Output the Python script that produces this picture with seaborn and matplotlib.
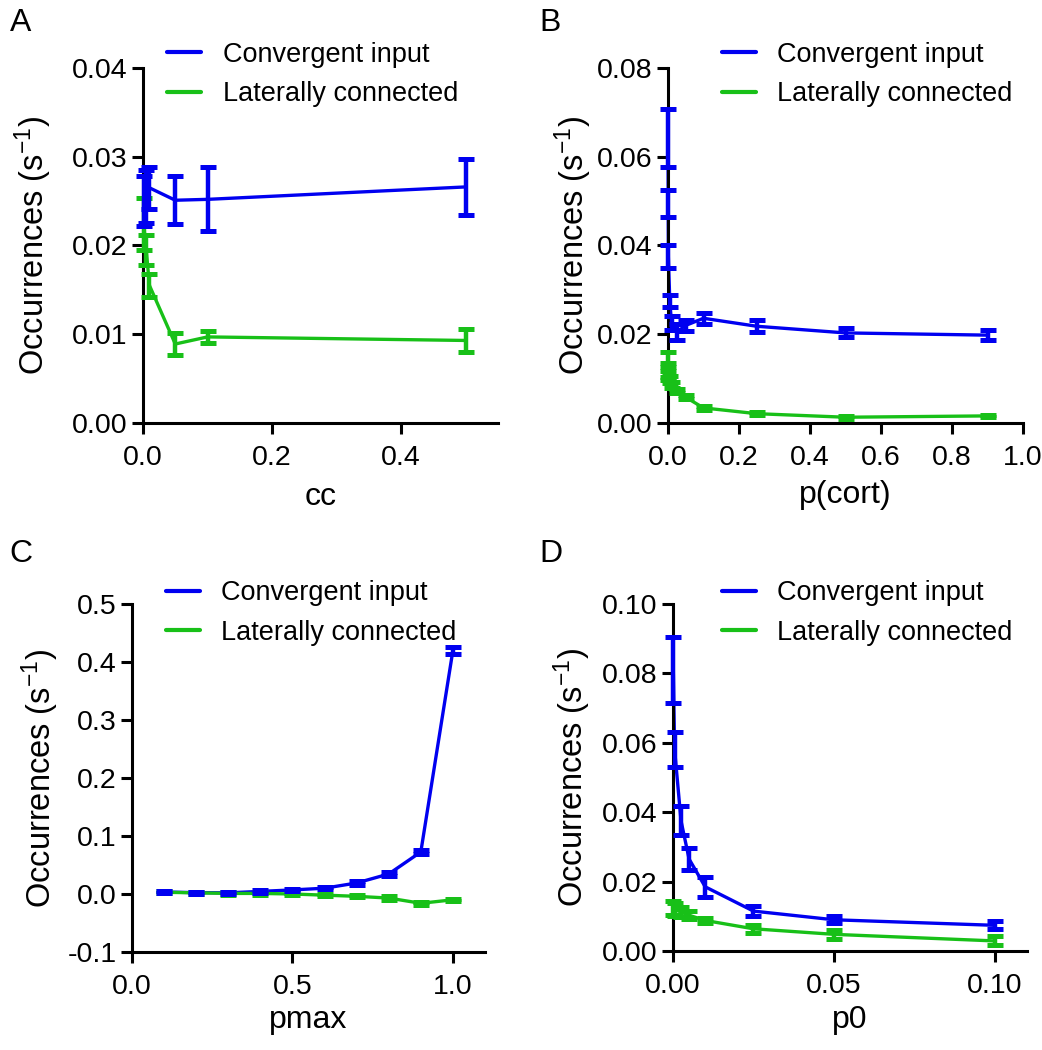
import numpy as np
import pandas as pd
import matplotlib
matplotlib.use("Agg")
import matplotlib.pyplot as plt
import seaborn as sns

# ---------------- data ----------------
series_names = ["Convergent input", "Laterally connected"]

A_x = [0.001, 0.005, 0.01, 0.05, 0.1, 0.5]
A_conv = [0.0250, 0.0255, 0.0265, 0.0251, 0.0252, 0.0266]
A_conv_err = [0.0028, 0.0030, 0.0024, 0.0027, 0.0036, 0.0032]
A_lat = [0.0224, 0.0195, 0.0155, 0.0089, 0.0097, 0.0093]
A_lat_err = [0.0029, 0.0017, 0.0013, 0.0012, 0.0007, 0.0013]

B_x = [0.0001, 0.0005, 0.001, 0.005, 0.01, 0.025, 0.05, 0.1, 0.25, 0.5, 0.9]
B_conv = [0.0643, 0.0495, 0.0375, 0.0275, 0.0225, 0.0205, 0.0220, 0.0236, 0.0218, 0.0203, 0.0198]
B_conv_err = [0.0065, 0.0030, 0.0025, 0.0013, 0.0015, 0.0018, 0.0012, 0.0012, 0.0013, 0.0010, 0.0011]
B_lat = [0.0148, 0.0115, 0.0108, 0.0098, 0.0085, 0.0072, 0.0058, 0.0034, 0.0021, 0.0013, 0.0016]
B_lat_err = [0.0012, 0.0012, 0.0010, 0.0008, 0.0007, 0.0005, 0.0005, 0.0004, 0.0003, 0.0003, 0.0003]

C_x = [0.1, 0.2, 0.3, 0.4, 0.5, 0.6, 0.7, 0.8, 0.9, 1.0]
C_conv = [0.0035, 0.0023, 0.0020, 0.0045, 0.0070, 0.0100, 0.0190, 0.0345, 0.0725, 0.4200]
C_conv_err = [0.002, 0.002, 0.002, 0.002, 0.002, 0.002, 0.003, 0.003, 0.004, 0.006]
C_lat = [0.0030, 0.0020, 0.0010, 0.0010, 0.0000, -0.0020, -0.0040, -0.0070, -0.0160, -0.0100]
C_lat_err = [0.002, 0.002, 0.002, 0.002, 0.002, 0.002, 0.002, 0.003, 0.003, 0.002]

D_x = [0.0001, 0.0005, 0.0025, 0.005, 0.01, 0.025, 0.05, 0.1]
D_conv = [0.0810, 0.0580, 0.0375, 0.0265, 0.0185, 0.0115, 0.0090, 0.0074]
D_conv_err = [0.0095, 0.0050, 0.0042, 0.0032, 0.0029, 0.0015, 0.0010, 0.0012]
D_lat = [0.0125, 0.0120, 0.0112, 0.0103, 0.0088, 0.0064, 0.0048, 0.0029]
D_lat_err = [0.0020, 0.0018, 0.0015, 0.0012, 0.0008, 0.0012, 0.0012, 0.0013]

panel_letters = ["A", "B", "C", "D"]
x_labels = ["cc", "p(cort)", "pmax", "p0"]
y_label = "Occurrences (s$^{-1}$)"

# ---------------- style ----------------
sns.set_theme(style="ticks")
plt.rcParams["font.family"] = ["Liberation Sans", "DejaVu Sans"]
plt.rcParams["mathtext.fontset"] = "custom"
plt.rcParams["mathtext.rm"] = "Liberation Sans"
plt.rcParams["mathtext.it"] = "Liberation Sans"
plt.rcParams["mathtext.default"] = "regular"
plt.rcParams["text.color"] = "black"
plt.rcParams["axes.labelcolor"] = "black"

BLUE = "#0000F0"
GREEN = "#18C018"
palette = {series_names[0]: BLUE, series_names[1]: GREEN}

W, H = 1042, 1050
fig = plt.figure(figsize=(W / 100, H / 100), dpi=100)

def px_axes(left, right, top, bottom):
    return fig.add_axes([left / W, 1 - bottom / H, (right - left) / W, (bottom - top) / H])

panels = [
    dict(box=(143, 498, 68, 423), x=A_x, c=A_conv, ce=A_conv_err, l=A_lat, le=A_lat_err,
         xlim=(0, 0.55), xticks=[0.0, 0.2, 0.4], xfmt="{:.1f}",
         ylim=(0, 0.04), yticks=[0.0, 0.01, 0.02, 0.03, 0.04], yfmt="{:.2f}",
         leg=(0.068, 1.074), letter=(10, 8), ylab_x=33, xlab_y=497),
    dict(box=(668, 1023, 68, 423), x=B_x, c=B_conv, ce=B_conv_err, l=B_lat, le=B_lat_err,
         xlim=(0, 1.0), xticks=[0.0, 0.2, 0.4, 0.6, 0.8, 1.0], xfmt="{:.1f}",
         ylim=(0, 0.08), yticks=[0.0, 0.02, 0.04, 0.06, 0.08], yfmt="{:.2f}",
         leg=(0.152, 1.074), letter=(539, 8), ylab_x=573, xlab_y=495),
    dict(box=(132, 485, 604, 952), x=C_x, c=C_conv, ce=C_conv_err, l=C_lat, le=C_lat_err,
         xlim=(0, 1.1), xticks=[0.0, 0.5, 1.0], xfmt="{:.1f}",
         ylim=(-0.1, 0.5), yticks=[-0.1, 0.0, 0.1, 0.2, 0.3, 0.4, 0.5], yfmt="{:.1f}",
         leg=(0.096, 1.068), letter=(9, 539), ylab_x=40, xlab_y=1020),
    dict(box=(673, 1027, 604, 951), x=D_x, c=D_conv, ce=D_conv_err, l=D_lat, le=D_lat_err,
         xlim=(0, 0.11), xticks=[0.0, 0.05, 0.10], xfmt="{:.2f}",
         ylim=(0, 0.10), yticks=[0.0, 0.02, 0.04, 0.06, 0.08, 0.10], yfmt="{:.2f}",
         leg=(0.138, 1.068), letter=(539, 539), ylab_x=572, xlab_y=1020),
]

LW = 2.4
for i, p in enumerate(panels):
    ax = px_axes(*p["box"])
    left, right, top, bottom = p["box"]
    df = pd.DataFrame({
        "x": list(p["x"]) * 2,
        "y": list(p["c"]) + list(p["l"]),
        "series": [series_names[0]] * len(p["x"]) + [series_names[1]] * len(p["x"]),
    })
    sns.lineplot(data=df, x="x", y="y", hue="series", palette=palette,
                 hue_order=series_names, linewidth=LW, ax=ax, clip_on=False,
                 legend=True)
    ax.errorbar(p["x"], p["l"], yerr=p["le"], fmt="none", ecolor=GREEN,
                elinewidth=LW + 0.8, capsize=5.5, capthick=3.6, clip_on=False, zorder=3)
    ax.errorbar(p["x"], p["c"], yerr=p["ce"], fmt="none", ecolor=BLUE,
                elinewidth=LW + 0.8, capsize=5.5, capthick=3.6, clip_on=False, zorder=4)

    ax.set_xlim(*p["xlim"])
    ax.set_ylim(*p["ylim"])
    ax.set_xticks(p["xticks"])
    ax.set_xticklabels([p["xfmt"].format(v) for v in p["xticks"]])
    ax.set_yticks(p["yticks"])
    ax.set_yticklabels([p["yfmt"].format(v) for v in p["yticks"]])
    ax.tick_params(axis="both", direction="out", length=8, width=2.2,
                   labelsize=20.5, color="black", labelcolor="black")
    ax.tick_params(axis="y", pad=3)
    ax.tick_params(axis="x", pad=8)
    for s in ["top", "right"]:
        ax.spines[s].set_visible(False)
    for s in ["left", "bottom"]:
        ax.spines[s].set_linewidth(2.2)
        ax.spines[s].set_color("black")

    ax.set_xlabel(x_labels[i], fontsize=23, color="black", va="center")
    ax.set_ylabel(y_label, fontsize=23.5, color="black", va="center")
    wpx, hpx = right - left, bottom - top
    ax.yaxis.set_label_coords((p["ylab_x"] - left) / wpx, 0.5)
    ax.xaxis.set_label_coords(0.5, (bottom - p["xlab_y"]) / hpx)

    leg = ax.legend(loc="upper left", bbox_to_anchor=p["leg"], frameon=False,
                    fontsize=19.5, handlelength=1.25, handletextpad=0.8,
                    labelspacing=0.5, borderpad=0, borderaxespad=0)
    for h in leg.legend_handles:
        h.set_linewidth(3)
    for t in leg.get_texts():
        t.set_color("black")

    fig.text(p["letter"][0] / W, 1 - p["letter"][1] / H, panel_letters[i],
             fontsize=23, ha="left", va="top", color="black")

fig.savefig("out.png", dpi=100)
